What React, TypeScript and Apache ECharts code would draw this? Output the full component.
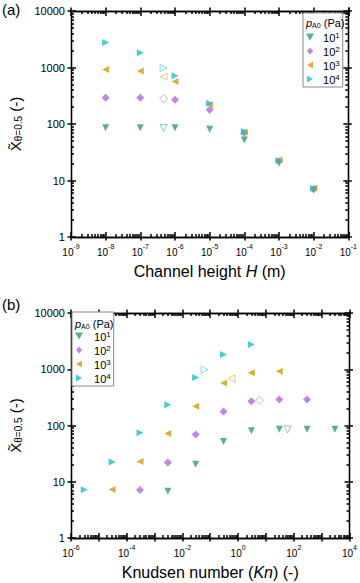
import React, { useEffect, useRef } from "react";
import * as echarts from "echarts";

// ---- data ----
const P_NAMES = ["p1", "p2", "p3", "p4"]; // 10^1 .. 10^4 Pa
const P_EXP = [1, 2, 3, 4];
const COLORS = ["#2E9F62", "#B266DD", "#D4990E", "#14C3C3"];
const SYMBOLS = ["triangle", "diamond", "triangle", "triangle"];
const ROTATE = [180, 0, 90, -90];
const SIZES = [7, 8, 7, 7];
const LEGEND_ICONS = [
  "path://M0,0L10,0L5,8.66Z",
  "path://M4.5,0L9,5L4.5,10L0,5Z",
  "path://M8.66,0L8.66,10L0,5Z",
  "path://M0,0L0,10L8.66,5Z",
];

const H = [1e-8, 1e-7, 1e-6, 1e-5, 1e-4, 1e-3, 1e-2];
const KN_P1 = [3000, 300, 30, 3, 0.3, 0.03, 0.003];
const KN_P2 = [300, 30, 3, 0.3, 0.03, 0.003, 0.0003];
const KN_P3 = [30, 3, 0.3, 0.03, 0.003, 0.0003, 0.00003];
const KN_P4 = [3, 0.3, 0.03, 0.003, 0.0003, 0.00003, 0.000003];
const X_P1 = [86, 86, 86, 81, 52, 20.5, 6.8];
const X_P2 = [290, 290, 270, 178, 69, 22, 7.1];
const X_P3 = [925, 865, 567, 219, 72, 23, 7.3];
const X_P4 = [2760, 1830, 714, 234, 74, 22.5, 7.2];
const KN = [KN_P1, KN_P2, KN_P3, KN_P4];
const XV = [X_P1, X_P2, X_P3, X_P4];

// open (hollow) points
const H_OPEN = 4.7e-7;
const KN_OPEN = [60, 5.9, 0.58, 0.063];
const X_OPEN = [85, 280, 687, 980];

// axes
const A_XMIN = 1e-9, A_XMAX = 1e-1;
const B_XMIN = 1e-6, B_XMAX = 1e4;
const YMIN = 1, YMAX = 10000;

const FONT = "Liberation Sans, Arial, Helvetica, sans-serif";

function hexA(hex: string, a: number) {
  const n = parseInt(hex.slice(1), 16);
  return `rgba(${(n >> 16) & 255},${(n >> 8) & 255},${n & 255},${a})`;
}

const TICK_STYLE = { color: "#000", width: 1.5 };
const LINE = { show: true, onZero: false, lineStyle: { color: "#000", width: 1.3 } };

const axisLabelY = {
  formatter: (v: number) => String(Math.round(v)),
  margin: 6,
  fontSize: 11,
  fontFamily: FONT,
  color: "#000",
};

const yNameRich = {
  x: { fontSize: 15, fontFamily: FONT, color: "#000" },
  s: { fontSize: 10, fontFamily: FONT, color: "#000", verticalAlign: "bottom", padding: [6, 0, 0, 0] },
  n: { fontSize: 15, fontFamily: FONT, color: "#000" },
};

// tick-only log axis (no labels)
function tickAxis(grid: number, position: string, min: number, max: number, inside: boolean, minor: boolean) {
  return {
    type: "log",
    gridIndex: grid,
    position,
    min,
    max,
    interval: 1,
    axisLine: LINE,
    axisTick: { show: true, inside, length: inside ? 5 : 3.5, lineStyle: TICK_STYLE },
    minorTick: { show: minor, splitNumber: 9, length: 3, lineStyle: TICK_STYLE },
    splitLine: { show: false },
    axisLabel: { show: false },
  };
}

function makeXAxes(grid: number, min: number, max: number, step: number, name: string) {
  const e0 = Math.round(Math.log10(min));
  const main = {
    type: "log",
    gridIndex: grid,
    position: "bottom",
    min,
    max,
    interval: 1,
    axisLine: LINE,
    axisTick: { show: true, inside: false, length: 3.5, lineStyle: TICK_STYLE },
    splitLine: { show: false },
    axisLabel: {
      margin: 6,
      color: "#000",
      interval: 0,
      formatter: (v: number) => {
        const e = Math.round(Math.log10(v));
        if ((e - e0) % step !== 0) return "";
        return `{b|10}{s|${e}}`;
      },
      rich: {
        b: { fontSize: 10, fontFamily: FONT, color: "#000", verticalAlign: "bottom", lineHeight: 14 },
        s: { fontSize: 7, fontFamily: FONT, color: "#000", verticalAlign: "top", lineHeight: 14, padding: [0, 0, 6, 0] },
      },
    },
    name,
    nameLocation: "middle",
    nameGap: 26,
    nameTextStyle: {
      rich: {
        n: { fontSize: 16, fontFamily: FONT, color: "#000" },
        i: { fontSize: 16, fontFamily: FONT, color: "#000", fontStyle: "italic" },
      },
    },
  };
  return [
    main,
    tickAxis(grid, "bottom", min, max, true, true),
    tickAxis(grid, "top", min, max, true, true),
    tickAxis(grid, "top", min, max, false, false),
  ];
}

function makeYAxes(grid: number) {
  const main = {
    type: "log",
    gridIndex: grid,
    position: "left",
    min: YMIN,
    max: YMAX,
    interval: 1,
    axisLine: LINE,
    axisTick: { show: true, inside: false, length: 3.5, lineStyle: TICK_STYLE },
    splitLine: { show: false },
    axisLabel: axisLabelY,
    name: "{x|X\u0303}{s|\u03B8=0.5}{n| (-)}",
    nameLocation: "middle",
    nameGap: 47,
    nameRotate: 90,
    nameTextStyle: { rich: yNameRich },
  };
  return [
    main,
    tickAxis(grid, "left", YMIN, YMAX, true, true),
    tickAxis(grid, "right", YMIN, YMAX, true, true),
    tickAxis(grid, "right", YMIN, YMAX, false, false),
  ];
}

function makeLegend(left: number, top: number, itemWidth: number) {
  return {
    data: P_NAMES.map((name, i) => ({ name, icon: LEGEND_ICONS[i] })),
    orient: "vertical",
    left,
    top,
    itemWidth,
    itemHeight: 7,
    itemGap: 2,
    padding: [18, 3, 2, 3],
    borderColor: "#888",
    borderWidth: 1,
    backgroundColor: "#fff",
    z: 10,
    selectedMode: false,
    formatter: (n: string) => `{b|10}{s|${P_EXP[P_NAMES.indexOf(n)]}}`,
    textStyle: {
      rich: {
        b: { fontSize: 11, fontFamily: FONT, color: "#000", verticalAlign: "bottom", lineHeight: 12 },
        s: { fontSize: 8, fontFamily: FONT, color: "#000", verticalAlign: "top", lineHeight: 12, padding: [0, 0, 4, 0] },
      },
    },
  };
}

function legendTitle(x: number, y: number) {
  return {
    type: "text",
    x,
    y,
    z: 20,
    style: {
      text: "{i|p}{s|A0}{n| (Pa)}",
      verticalAlign: "middle",
      rich: {
        i: { fontSize: 11, fontStyle: "italic", fontFamily: FONT, fill: "#000" },
        s: { fontSize: 7, fontFamily: FONT, fill: "#000", verticalAlign: "bottom", padding: [5, 0, 0, 0] },
        n: { fontSize: 11, fontFamily: FONT, fill: "#000" },
      },
    },
  };
}

export default function App() {
  const ref = useRef<HTMLDivElement>(null);
  useEffect(() => {
    if (!ref.current) return;
    const chart = echarts.init(ref.current, null, { renderer: "svg" });
    const series: any[] = [];
    [0, 1].forEach((g) => {
      P_NAMES.forEach((name, i) => {
        const xs = g === 0 ? H : KN[i];
        series.push({
          type: "scatter",
          name,
          xAxisIndex: g * 4,
          yAxisIndex: g * 4,
          symbol: SYMBOLS[i],
          symbolRotate: ROTATE[i],
          symbolSize: SIZES[i],
          itemStyle: { color: COLORS[i] },
          z: 3,
          data: xs.map((x, j) => [x, XV[i][j]]),
        });
        series.push({
          type: "scatter",
          name: name + "-open",
          xAxisIndex: g * 4,
          yAxisIndex: g * 4,
          symbol: SYMBOLS[i],
          symbolRotate: ROTATE[i],
          symbolSize: SIZES[i],
          itemStyle: { color: "rgba(0,0,0,0)", borderColor: hexA(COLORS[i], 0.65), borderWidth: 1 },
          z: 3,
          data: [[g === 0 ? H_OPEN : KN_OPEN[i], X_OPEN[i]]],
        });
      });
    });

    chart.setOption({
      animation: false,
      textStyle: { fontFamily: FONT },
      grid: [
        { left: 70, right: 10.5, top: 11, height: 226, show: false },
        { left: 70, right: 10.5, top: 313, height: 225, show: false },
      ],
      xAxis: [
        ...makeXAxes(0, A_XMIN, A_XMAX, 1, "{n|Channel height }{i|H}{n| (m)}"),
        ...makeXAxes(1, B_XMIN, B_XMAX, 2, "{n|Knudsen number (}{i|Kn}{n|) (-)}"),
      ],
      yAxis: [...makeYAxes(0), ...makeYAxes(1)],
      legend: [makeLegend(303, 13, 16), makeLegend(72, 312, 20)],
      graphic: [
        { type: "text", x: 2, y: 2, style: { text: "(a)", fontSize: 15, fontFamily: FONT, fill: "#000" } },
        { type: "text", x: 2, y: 297, style: { text: "(b)", fontSize: 15, fontFamily: FONT, fill: "#000" } },
        legendTitle(306, 23),
        legendTitle(75, 323.5),
      ],
      series,
    });
    return () => chart.dispose();
  }, []);
  return (
    <div
      ref={ref}
      style={{ position: "absolute", left: 0, top: 0, width: 360, height: 583, background: "#fff" }}
    />
  );
}
